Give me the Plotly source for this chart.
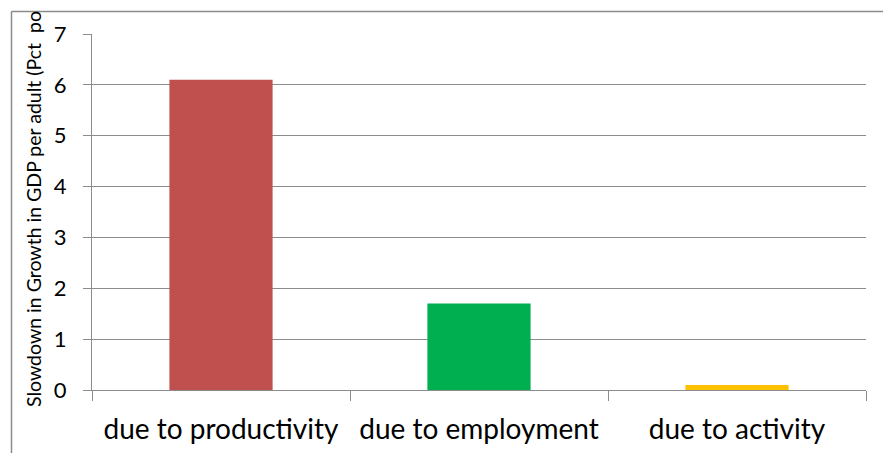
import plotly.graph_objects as go

# Decomposition of the slowdown in growth of GDP per adult
categories = ["due to productivity", "due to employment", "due to activity"]
values = [6.1, 1.7, 0.1]
bar_colors = ["#C0504D", "#00B050", "#FFC000"]
y_ticks = [0, 1, 2, 3, 4, 5, 6, 7]
y_title = "Slowdown in Growth in GDP per adult (Pct  po"

W, H = 883, 453
L, R, T, B = 92, 17, 34, 63
grid = "#8C8C8C"
font = "Lato"

fig = go.Figure(go.Bar(
    x=categories, y=values,
    marker=dict(color=bar_colors, line=dict(width=0)),
    hoverinfo="x+y",
))

fig.update_layout(
    width=W, height=H,
    margin=dict(l=L, r=R, t=T, b=B, autoexpand=False),
    paper_bgcolor="white", plot_bgcolor="white",
    bargap=0.6,
    showlegend=False,
    font=dict(family=font, color="black"),
)

fig.update_xaxes(
    type="category",
    tickson="boundaries",
    ticks="outside", ticklen=10, tickcolor=grid, tickwidth=1,
    showline=True, linecolor=grid, linewidth=1,
    showgrid=False,
    tickfont=dict(size=28, family=font, color="black"),
    ticklabelstandoff=14,
    automargin=False,
)

fig.update_yaxes(
    range=[0, 7], tickvals=y_ticks,
    ticks="outside", ticklen=8, tickcolor=grid, tickwidth=1,
    showline=True, linecolor=grid, linewidth=1,
    showgrid=True, gridcolor=grid, gridwidth=1,
    zeroline=True, zerolinecolor=grid, zerolinewidth=1,
    tickfont=dict(size=22, family=font, color="black"),
    ticklabelstandoff=12,
    automargin=False,
)

# rotated axis title
px_x = lambda p: (p - L) / (W - L - R)
px_y = lambda p: (H - B - p) / (H - T - B)
fig.add_annotation(
    text=y_title, textangle=-90,
    xref="paper", yref="paper",
    x=px_x(33), y=px_y(409),
    xanchor="center", yanchor="bottom",
    showarrow=False,
    font=dict(size=19.5, family=font, color="black"),
)

# chart frame (left and top edges)
fig.add_shape(type="line", xref="paper", yref="paper",
              x0=px_x(11.5), x1=px_x(11.5), y0=px_y(11.5), y1=px_y(H + 5),
              line=dict(color=grid, width=1.5))
fig.add_shape(type="line", xref="paper", yref="paper",
              x0=px_x(11.5), x1=px_x(W + 5), y0=px_y(11.5), y1=px_y(11.5),
              line=dict(color=grid, width=1.5))

fig.write_html("out.html")
